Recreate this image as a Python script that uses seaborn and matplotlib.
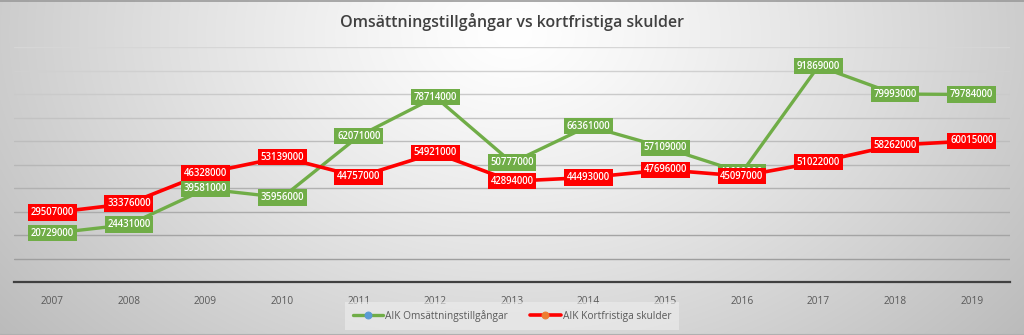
import numpy as np
import pandas as pd
import matplotlib
matplotlib.use("Agg")
import matplotlib.pyplot as plt
import seaborn as sns

years = ["2007", "2008", "2009", "2010", "2011", "2012", "2013",
         "2014", "2015", "2016", "2017", "2018", "2019"]
omsattning = [20729000, 24431000, 39581000, 35956000, 62071000, 78714000, 50777000,
              66361000, 57109000, 46600000, 91869000, 79993000, 79784000]
kortfristiga = [29507000, 33376000, 46328000, 53139000, 44757000, 54921000, 42894000,
                44493000, 47696000, 45097000, 51022000, 58262000, 60015000]
series_names = ["AIK Omsättningstillgångar", "AIK Kortfristiga skulder"]
title = "Omsättningstillgångar vs kortfristiga skulder"

sns.set_theme(style="white")
plt.rcParams['font.family'] = ['Open Sans', 'DejaVu Sans']

W, H = 1024, 335
fig = plt.figure(figsize=(W / 100, H / 100), dpi=100)

# background radial gradient
bg = fig.add_axes([0, 0, 1, 1])
yy, xx = np.mgrid[0:H, 0:W]
dx = (xx - W * 0.5) / (W * 0.55)
dy = (yy - H * 0.10) / (H * 1.2)
r = np.sqrt(dx ** 2 + dy ** 2)
r = np.clip(r, 0, 1.2)
v = 1.0 - 0.22 * r ** 1.2
img = np.dstack([v, v, v])
bg.imshow(img, aspect='auto', extent=[0, 1, 0, 1], origin='upper')
bg.set_xlim(0, 1)
bg.set_ylim(0, 1)
bg.set_axis_off()
bg.plot([0, 1], [0.997, 0.997], color='#9a9a9a', lw=1.2)
bg.plot([0, 1], [0.004, 0.004], color='#b0b0b0', lw=0.8)

ax = fig.add_axes([14 / W, (H - 282) / H, (1010 - 14) / W, (282 - 47) / H])
ax.patch.set_alpha(0)

df = pd.DataFrame({"År": years * 2,
                   "Värde": omsattning + kortfristiga,
                   "Serie": [series_names[0]] * len(years) + [series_names[1]] * len(years)})

green, red = "#70AD47", "#FF0000"
blue_m, orange_m = "#5B9BD5", "#ED7D31"

sns.lineplot(data=df[df["Serie"] == series_names[0]], x="År", y="Värde", ax=ax,
             color=green, lw=2.4, marker='o', markersize=9,
             markerfacecolor=blue_m, markeredgecolor=blue_m, label=series_names[0], zorder=3)
sns.lineplot(data=df[df["Serie"] == series_names[1]], x="År", y="Värde", ax=ax,
             color=red, lw=2.6, marker='o', markersize=9,
             markerfacecolor=orange_m, markeredgecolor=orange_m, label=series_names[1], zorder=4)

for i, v_ in enumerate(omsattning):
    ax.text(i, v_, f"{v_}", ha='center', va='center', color='white', fontsize=6.9,
            fontweight='semibold', zorder=5,
            bbox=dict(boxstyle='square,pad=0.28', fc=green, ec='none'))
for i, v_ in enumerate(kortfristiga):
    ax.text(i, v_, f"{v_}", ha='center', va='center', color='white', fontsize=6.9,
            fontweight='semibold', zorder=6,
            bbox=dict(boxstyle='square,pad=0.28', fc=red, ec='none'))

ax.set_xlim(-0.5, len(years) - 0.5)
ax.set_ylim(0, 100000000)
grid_levels = np.arange(10000000, 100000001, 10000000)
for k, gl in enumerate(grid_levels):
    shade = 0.62 + 0.22 * k / (len(grid_levels) - 1)
    ax.axhline(gl, color=(shade, shade, shade), lw=1.0, zorder=1)
ax.set_yticks([])
ax.tick_params(axis='x', bottom=False, labelsize=7.3, labelcolor='#595959', pad=4)
for s in ['top', 'right', 'left']:
    ax.spines[s].set_visible(False)
ax.spines['bottom'].set_color('#404040')
ax.spines['bottom'].set_linewidth(1.6)
ax.set_xlabel("")
ax.set_ylabel("")

fig.text(0.5, (H - 22) / H, title, ha='center', va='center', fontsize=11.5,
         color='#404040', fontweight='semibold')

leg = ax.legend(loc='center', bbox_to_anchor=(0.5, (282 - 316) / (282 - 47)),
                ncol=2, frameon=True, fontsize=7.3, facecolor='#eeeeee', edgecolor='none',
                framealpha=0.6, handlelength=3.0, columnspacing=2.2, borderpad=0.45,
                handletextpad=0.2, markerscale=0.55)
for t in leg.get_texts():
    t.set_color('#595959')
leg.get_frame().set_boxstyle('square')

fig.savefig("out.png", dpi=100)
